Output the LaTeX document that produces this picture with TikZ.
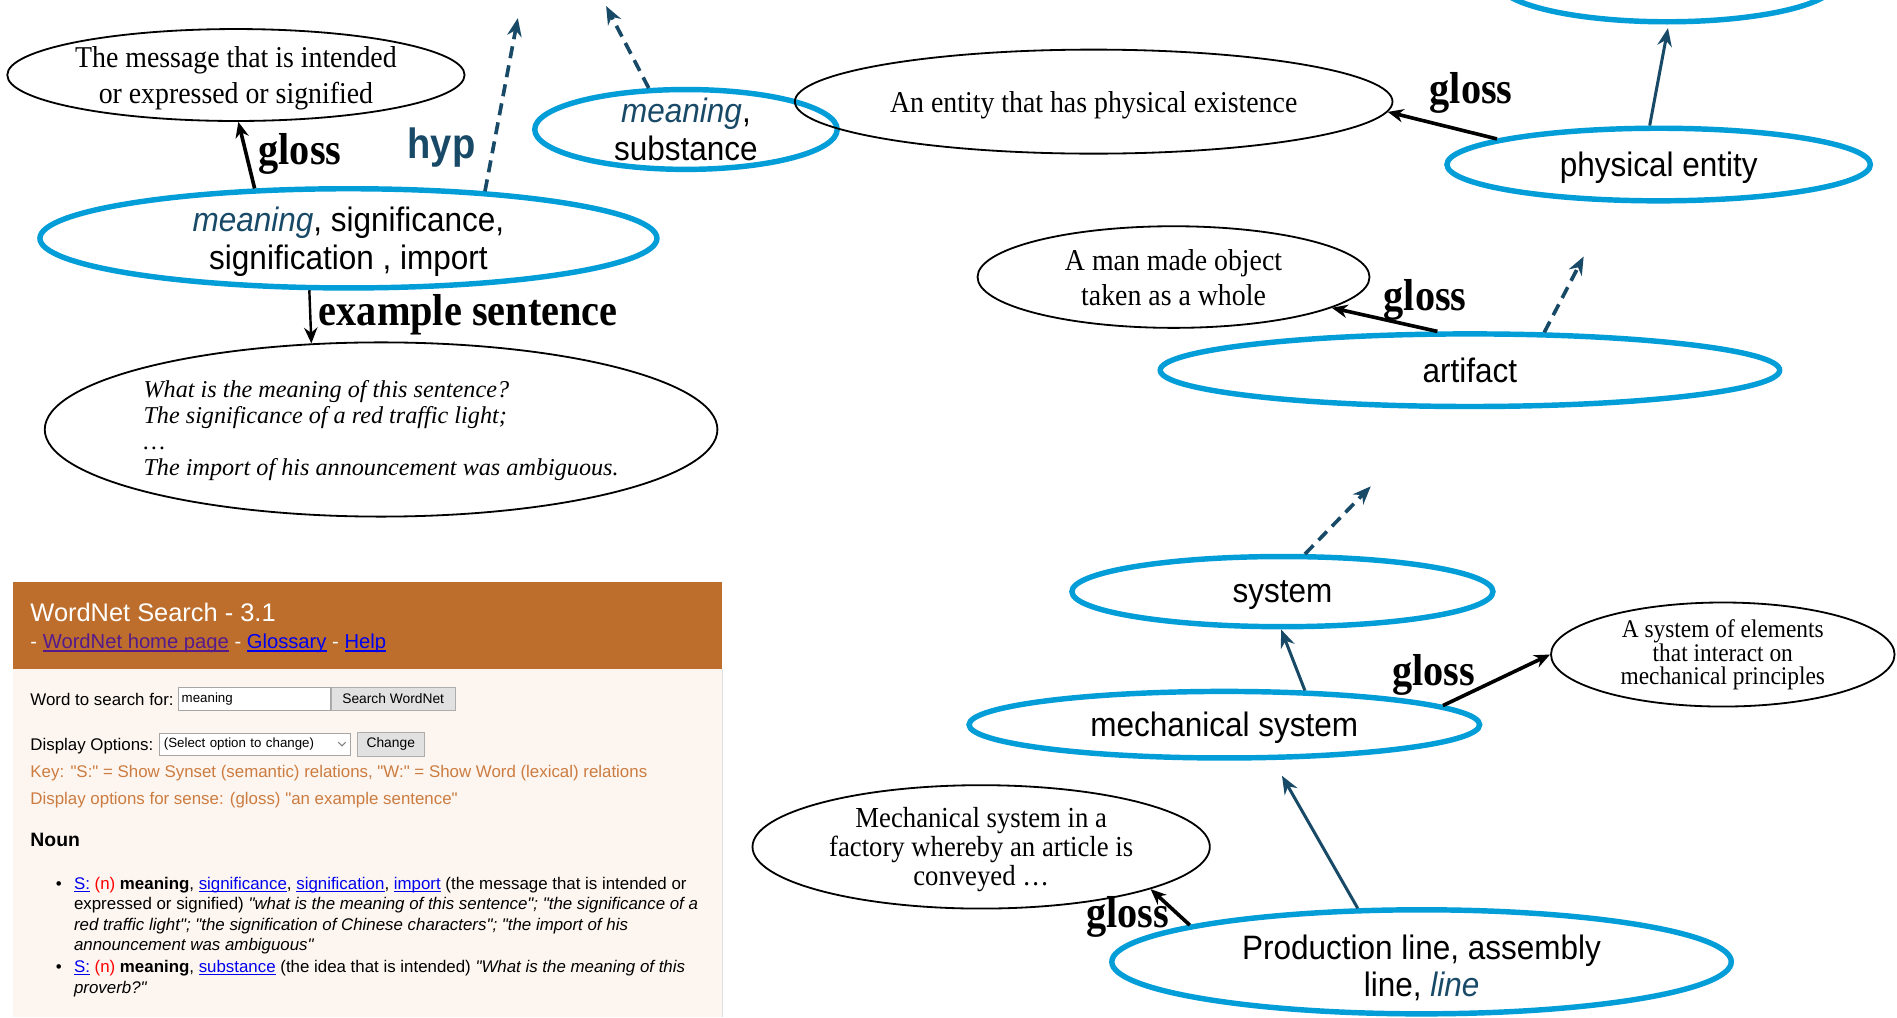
\documentclass[tikz,border=0pt]{standalone}
\usepackage{fontspec}
\setmainfont{Liberation Serif}
\setsansfont[Ligatures=TeXOff]{Liberation Sans}
\newfontfamily\synsetfont[FakeStretch=0.93]{Liberation Sans}
\newfontfamily\glossfont[FakeStretch=0.92]{Liberation Serif}
\newfontfamily\relfont[FakeStretch=0.9]{Liberation Serif}
\newfontfamily\hyprelfont[FakeStretch=0.9]{Liberation Sans}
\definecolor{wnblue}{RGB}{3,158,216}
\definecolor{wnteal}{RGB}{24,74,104}
\definecolor{wnbrown}{RGB}{189,110,44}
\definecolor{wnbeige}{RGB}{253,246,240}
\definecolor{wnorange}{RGB}{204,124,64}
\definecolor{linkblue}{RGB}{0,0,238}
\definecolor{linkvisited}{RGB}{85,26,139}
\definecolor{btngray}{RGB}{225,225,225}
\definecolor{btnedge}{RGB}{173,173,173}
\usetikzlibrary{shapes,arrows.meta,positioning,calc}

\newcommand{\ulink}[2]{{\color{#1}\setbox0=\hbox{#2}\rlap{\rule[-0.16em]{\wd0}{0.07em}}\box0}}
\newcommand{\wnlink}[1]{\ulink{linkblue}{#1}}
\newcommand{\synword}[1]{\textcolor{wnteal}{\textit{#1}}}
\newcommand{\panelfont}{\sffamily\fontsize{13.95}{17}\selectfont}

\begin{document}
\begin{tikzpicture}[x=1pt, y=-1pt,
    synset/.style={ellipse, draw=wnblue, line width=4.5pt, inner sep=0pt, align=center, text depth=0pt,
        font=\synsetfont\fontsize{28}{31}\selectfont},
    glossbox/.style={ellipse, draw=black, line width=1.5pt, inner sep=0pt, align=center, text depth=0pt,
        font=\glossfont\fontsize{25}{29}\selectfont},
    relname/.style={font=\relfont\bfseries\fontsize{37}{37}\selectfont, inner sep=0pt},
    glossarr/.style={-{Stealth[length=13pt,width=11pt]}, line width=3pt},
    hyparr/.style={-{Stealth[length=15pt,width=12pt]}, line width=2.5pt, draw=wnteal},
    hypdash/.style={hyparr, line width=3pt, dash pattern=on 10pt off 6pt},
    paneltext/.style={anchor=base west, inner sep=0pt, font=\panelfont},
    button/.style={draw=btnedge, fill=btngray, inner sep=0pt, font=\sffamily\fontsize{11.4}{12}\selectfont}
]
    \useasboundingbox (0,0) rectangle (1568,841);
    \fill[white] (0,0) rectangle (1568,841);

    % WordNet panel
    \fill[wnbeige] (11,553) rectangle (597,841);
    \fill[wnbrown] (11,481) rectangle (597,553);
    \draw[gray!25, line width=1pt] (597,553) -- (597,841);

    \node[paneltext, text=white, font=\sffamily\fontsize{21}{21}\selectfont] (wntitle) at (25,514) {WordNet Search - 3.1};
    \node[paneltext, text=white, font=\sffamily\fontsize{16.7}{17}\selectfont] (wnlinks) at (25,536)
        {- \ulink{linkvisited}{WordNet home page} - \wnlink{Glossary} - \wnlink{Help}};

    \node[paneltext] (wnword) at (25,583) {Word to search for:};
    \node[draw=gray!70, fill=white, minimum height=19pt, text width=120pt, inner xsep=3pt, inner ysep=0pt,
          align=left, anchor=west, font=\sffamily\fontsize{11}{12}\selectfont] (wnfield) at (147,577.5) {meaning};
    \node[button, minimum width=102pt, minimum height=19pt] (wnsearch) at (325,577.5) {Search WordNet};

    \node[paneltext] (wnopts) at (25,620) {Display Options:};
    \node[draw=gray!70, fill=white, minimum height=18pt, text width=150pt, inner xsep=4pt, inner ysep=0pt,
          align=left, font=\sffamily\fontsize{11}{12}\selectfont] (wnsel) at (210.5,615) {(Select option to change)};
    \draw[gray, line width=0.8pt] ($(wnsel.east)+(-10,-1.5)$) -- ++(3,3) -- ++(3,-3);
    \node[button, minimum width=56pt, minimum height=20pt] (wnchange) at (323,615) {Change};

    \node[paneltext, text=wnorange] (wnkey) at (25,643)
        {Key: "S:" = Show Synset (semantic) relations, "W:" = Show Word (lexical) relations};
    \node[paneltext, text=wnorange] (wnsense) at (25,665)
        {Display options for sense: (gloss) "an example sentence"};
    \node[paneltext, font=\sffamily\bfseries\fontsize{16}{17}\selectfont] (wnnoun) at (25,700) {Noun};

    \node[paneltext] (dot1) at (46,735) {\textbullet};
    \node[paneltext] (dot2) at (46,804) {\textbullet};
    \node[paneltext] (b1) at (61,735) {\wnlink{S:} \textcolor{red}{(n)} \textbf{meaning}, \wnlink{significance},
        \wnlink{signification}, \wnlink{import} (the message that is intended or};
    \node[paneltext] (b2) at (61,752) {expressed or signified) \textit{"what is the meaning of this sentence"; "the significance of a}};
    \node[paneltext] (b3) at (61,769) {\textit{red traffic light"; "the signification of Chinese characters"; "the import of his}};
    \node[paneltext] (b4) at (61,786) {\textit{announcement was ambiguous"}};
    \node[paneltext] (b5) at (61,804) {\wnlink{S:} \textcolor{red}{(n)} \textbf{meaning}, \wnlink{substance}
        (the idea that is intended) \textit{"What is the meaning of this}};
    \node[paneltext] (b6) at (61,821) {\textit{proverb?"}};

    % Synsets
    \node[synset, minimum width=510pt, minimum height=82pt] (syn1) at (288,197)
        {\synword{meaning}, significance,\\signification , import};
    \node[synset, minimum width=250pt, minimum height=66pt, inner ysep=-6pt] (syn2) at (567,107)
        {\synword{meaning},\\substance};
    \node[synset, minimum width=280pt, minimum height=66pt] (ent) at (1378,-15) {};
    \node[synset, minimum width=350pt, minimum height=60pt] (phys) at (1371,136) {physical entity};
    \node[synset, minimum width=512pt, minimum height=60pt] (art) at (1215,306) {artifact};
    \node[synset, minimum width=348pt, minimum height=58pt] (sys) at (1060,489) {system};
    \node[synset, minimum width=422pt, minimum height=55pt] (mech) at (1012,599) {mechanical system};
    \node[synset, minimum width=512pt, minimum height=86pt, inner ysep=-4pt] (prod) at (1175,795)
        {\rule{0pt}{27pt}Production line, assembly\\line, \synword{line}};

    % Glosses and example sentences
    \node[glossbox, minimum width=378pt, minimum height=76pt] (gl1) at (195,62)
        {The message that is intended\\or expressed or signified};
    \node[glossbox, minimum width=494pt, minimum height=86pt] (gl2) at (904,84)
        {An entity that has physical existence};
    \node[glossbox, minimum width=324pt, minimum height=84pt] (gl3) at (970,229)
        {A man made object\\taken as a whole};
    \node[glossbox, minimum width=284pt, minimum height=86pt, text depth=3.6pt,
          font=\glossfont\fontsize{21}{19}\selectfont] (gl4) at (1424,541)
        {A system of elements\\that interact on\\mechanical principles};
    \node[glossbox, minimum width=378pt, minimum height=102pt, font=\glossfont\fontsize{24}{24}\selectfont] (gl5) at (811,700)
        {Mechanical system in a\\factory whereby an article is\\conveyed \ldots};
    \node[glossbox, minimum width=556pt, minimum height=144pt, align=left, text depth=2pt,
          font=\rmfamily\itshape\fontsize{20}{21.5}\selectfont] (ex) at (315,355)
        {What is the meaning of this sentence?\\The significance of a red traffic light;\\\ldots\\The import of his announcement was ambiguous.};

    % Relation names
    \node[relname] (rg1) at (248,127) {gloss};
    \node[relname] (rg2) at (1216,77) {gloss};
    \node[relname] (rg3) at (1178,248) {gloss};
    \node[relname] (rg4) at (1185,558) {gloss};
    \node[relname] (rg5) at (932,758) {gloss};
    \node[relname] (rex) at (387,260) {example sentence};
    \node[font=\hyprelfont\bfseries\fontsize{35}{35}\selectfont, text=wnteal, inner sep=0pt] (rhyp) at (365,122) {hyp};

    % Free ends of hypernym links
    \coordinate (hyp1) at (428,15);
    \coordinate (hyp2) at (501,5);
    \coordinate (hyp3) at (1309,212);
    \coordinate (hyp4) at (1133,402);

    % Gloss links
    \draw[glossarr] (syn1.152) -- (gl1.273);
    \draw[glossarr] (phys.171) -- (gl2.-2);
    \draw[glossarr] (art.130) -- (gl3.-11);
    \draw[glossarr] (mech.5) -- (gl4.west);
    \draw[glossarr] (prod.171) -- (gl5.-14);
    \draw[glossarr, line width=2pt] (syn1.233) -- (ex.129);

    % Hypernym links
    \draw[hypdash] (syn1.19) -- (hyp1);
    \draw[hypdash] (syn2.132) -- (hyp2);
    \draw[hypdash] (art.27) -- (hyp3);
    \draw[hypdash] (sys.59) -- (hyp4);
    \draw[hyparr, shorten >=3pt] (phys.103) -- (ent.-88);
    \draw[hyparr] (mech.23) -- (sys.268);
    \draw[hyparr, shorten >=15pt] (prod.140) -- (mech.-36);
\end{tikzpicture}
\end{document}
